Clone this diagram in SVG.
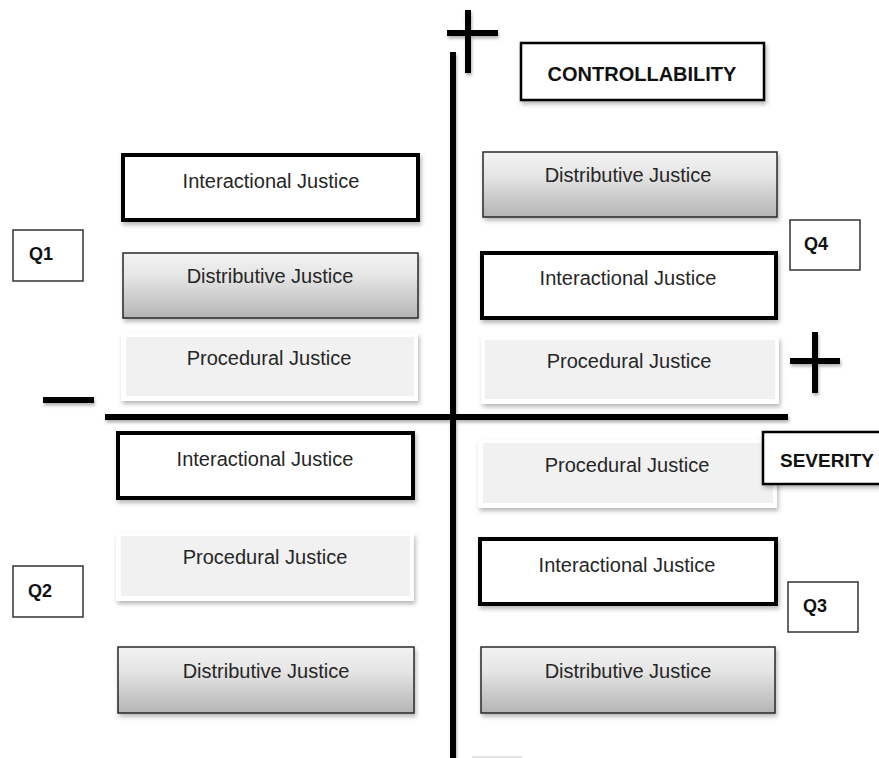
<svg xmlns="http://www.w3.org/2000/svg" width="879" height="758" viewBox="0 0 879 758">
<defs>
<linearGradient id="gDist" x1="0" y1="0" x2="0" y2="1">
<stop offset="0" stop-color="#f2f2f2"/>
<stop offset="0.35" stop-color="#e6e6e6"/>
<stop offset="1" stop-color="#b4b4b4"/>
</linearGradient>
<filter id="sh" x="-10%" y="-20%" width="125%" height="150%">
<feDropShadow dx="1.5" dy="3" stdDeviation="2" flood-color="#000" flood-opacity="0.28"/>
</filter>
<filter id="shl" x="-10%" y="-50%" width="120%" height="250%">
<feDropShadow dx="1" dy="2.5" stdDeviation="1.8" flood-color="#000" flood-opacity="0.3"/>
</filter>
</defs>
<style>
.t{font-family:"Liberation Sans",Arial,sans-serif;font-size:20px;fill:#262626;text-anchor:middle}
.b{font-family:"Liberation Sans",Arial,sans-serif;font-weight:bold;fill:#111}
.inter{fill:#fff;stroke:#000;stroke-width:4}
.dist{fill:url(#gDist);stroke:#2a2a2a;stroke-width:1.5}
.procO{fill:#fff}
.procI{fill:#f1f1f1}
.q{fill:#fff;stroke:#333;stroke-width:1.5}
.lab{fill:#fff;stroke:#000;stroke-width:2.5}
.ax{fill:#000}
</style>
<rect width="879" height="758" fill="#fff"/>

<g id="connectors" filter="url(#shl)">
<rect class="ax" x="450" y="52" width="6" height="706"/>
<rect class="ax" x="105" y="414" width="683" height="6"/>
<rect class="ax" x="465" y="10" width="6" height="63"/>
<rect class="ax" x="447" y="30" width="51" height="6"/>
<rect class="ax" x="812" y="332" width="6" height="61"/>
<rect class="ax" x="790" y="358" width="50" height="6"/>
<rect class="ax" x="43" y="397" width="51" height="6"/>
</g>
<rect x="472" y="756" width="50" height="2" fill="#e2e2e2"/>

<g id="controllability">
<rect class="lab" x="521" y="43" width="243" height="57" filter="url(#sh)"/>
<text class="b" x="642" y="81" font-size="20" text-anchor="middle">CONTROLLABILITY</text>
</g>

<g id="q1"><rect class="q" x="13" y="230" width="70" height="51"/><text class="b" x="29" y="260" font-size="18">Q1</text></g>
<g id="q2"><rect class="q" x="13" y="566" width="70" height="51"/><text class="b" x="28" y="597" font-size="18">Q2</text></g>
<g id="q3"><rect class="q" x="788" y="582" width="70" height="50"/><text class="b" x="803" y="612" font-size="18">Q3</text></g>
<g id="q4"><rect class="q" x="790" y="220" width="70" height="50"/><text class="b" x="804" y="250" font-size="18">Q4</text></g>

<g id="q1-interactional"><rect class="inter" x="123" y="155" width="295" height="65" filter="url(#sh)"/><text class="t" x="271" y="188">Interactional Justice</text></g>
<g id="q1-distributive"><rect class="dist" x="123" y="253" width="295" height="65" filter="url(#sh)"/><text class="t" x="270" y="283">Distributive Justice</text></g>
<g id="q1-procedural"><rect class="procO" x="121" y="333" width="297" height="68" filter="url(#sh)"/><rect class="procI" x="126" y="337" width="288" height="59"/><text class="t" x="269" y="365">Procedural Justice</text></g>

<g id="q4-distributive"><rect class="dist" x="483" y="152" width="294" height="65" filter="url(#sh)"/><text class="t" x="628" y="182">Distributive Justice</text></g>
<g id="q4-interactional"><rect class="inter" x="482" y="253" width="294" height="65" filter="url(#sh)"/><text class="t" x="628" y="285">Interactional Justice</text></g>
<g id="q4-procedural"><rect class="procO" x="481" y="337" width="298" height="67" filter="url(#sh)"/><rect class="procI" x="485" y="340" width="290" height="59"/><text class="t" x="629" y="368">Procedural Justice</text></g>

<g id="q2-interactional"><rect class="inter" x="118" y="433" width="295" height="65" filter="url(#sh)"/><text class="t" x="265" y="466">Interactional Justice</text></g>
<g id="q2-procedural"><rect class="procO" x="116" y="533" width="298" height="68" filter="url(#sh)"/><rect class="procI" x="121" y="536" width="289" height="60"/><text class="t" x="265" y="564">Procedural Justice</text></g>
<g id="q2-distributive"><rect class="dist" x="118" y="647" width="296" height="66" filter="url(#sh)"/><text class="t" x="266" y="678">Distributive Justice</text></g>

<g id="q3-procedural"><rect class="procO" x="478" y="440" width="299" height="68" filter="url(#sh)"/><rect class="procI" x="483" y="443" width="290" height="60"/><text class="t" x="627" y="472">Procedural Justice</text></g>
<g id="q3-interactional"><rect class="inter" x="480" y="539" width="296" height="65" filter="url(#sh)"/><text class="t" x="627" y="572">Interactional Justice</text></g>
<g id="q3-distributive"><rect class="dist" x="481" y="647" width="294" height="66" filter="url(#sh)"/><text class="t" x="628" y="678">Distributive Justice</text></g>

<g id="severity">
<rect class="lab" x="763" y="432" width="130" height="52" filter="url(#sh)"/>
<text class="b" x="780" y="467" font-size="19">SEVERITY</text>
</g>
</svg>
